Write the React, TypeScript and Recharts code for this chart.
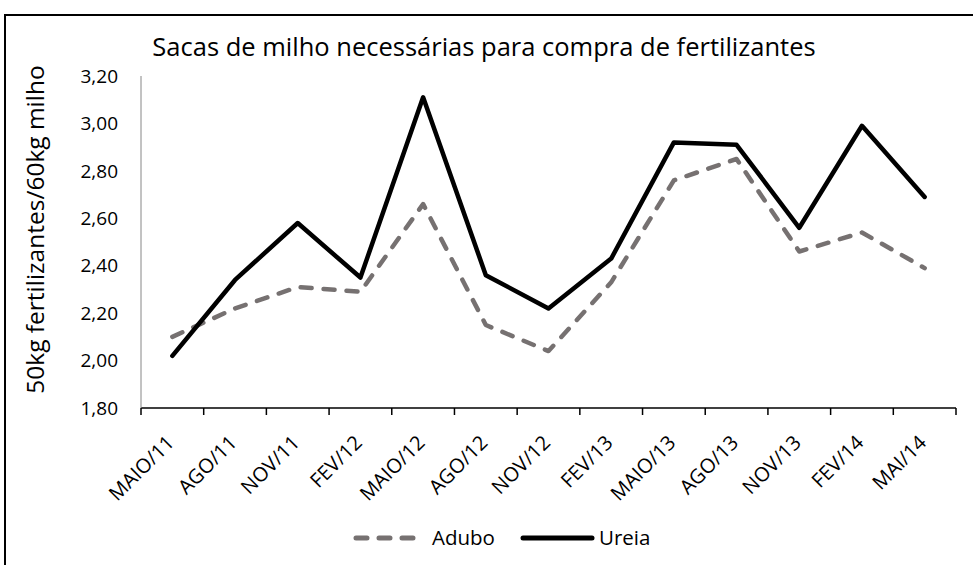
import { LineChart, Line, XAxis, YAxis, Legend } from 'recharts';

const categories = ['MAIO/11', 'AGO/11', 'NOV/11', 'FEV/12', 'MAIO/12', 'AGO/12', 'NOV/12', 'FEV/13', 'MAIO/13', 'AGO/13', 'NOV/13', 'FEV/14', 'MAI/14'];
const adubo = [2.1, 2.22, 2.31, 2.29, 2.66, 2.15, 2.04, 2.33, 2.76, 2.85, 2.46, 2.54, 2.39];
const ureia = [2.02, 2.34, 2.58, 2.35, 3.11, 2.36, 2.22, 2.43, 2.92, 2.91, 2.56, 2.99, 2.69];
const yTicks = [1.8, 2.0, 2.2, 2.4, 2.6, 2.8, 3.0, 3.2];

const W = 973;
const H = 565;
const margin = { top: 76, right: 17, left: 0, bottom: 7 };
const yAxisWidth = 141;
const band = (W - yAxisWidth - margin.right - margin.left) / categories.length;
const font = '"Open Sans", sans-serif';
const grey = '#767171';

const data = categories.map((c, i) => ({ name: c, adubo: adubo[i], ureia: ureia[i] }));

function XTick(props: any) {
  const { x, y, payload, index } = props;
  const left = x - band / 2;
  const tx = x + 3;
  const ty = y + 36;
  return (
    <g>
      <line x1={left} x2={left} y1={y} y2={y + 7} stroke="#000" strokeWidth={1.5} />
      {index === categories.length - 1 && (
        <line x1={x + band / 2} x2={x + band / 2} y1={y} y2={y + 7} stroke="#000" strokeWidth={1.5} />
      )}
      <text x={tx} y={ty} transform={`rotate(-45, ${tx}, ${ty})`} textAnchor="end" fontSize={20} fontFamily={font} fill="#000">
        {payload.value}
      </text>
    </g>
  );
}

function LegendContent() {
  return (
    <svg width={W} height={40}>
      <line x1={356} x2={418} y1={20} y2={20} stroke={grey} strokeWidth={5} strokeDasharray="11 12" strokeLinecap="round" />
      <text x={432} y={27} fontSize={20.5} fontFamily={font} fill="#000">Adubo</text>
      <line x1={523} x2={592} y1={20} y2={20} stroke="#000" strokeWidth={5} strokeLinecap="round" />
      <text x={599} y={27} fontSize={20.5} fontFamily={font} fill="#000">Ureia</text>
    </svg>
  );
}

export default function App() {
  return (
    <div style={{ position: 'fixed', left: 0, top: 0, width: W, height: H, background: '#fff' }}>
      <div style={{ position: 'absolute', left: 4, top: 14, width: 980, height: 560, border: '2px solid #000', boxSizing: 'border-box' }} />
      <LineChart width={W} height={H} data={data} margin={margin}>
        <text x={484} y={46} textAnchor="middle" dominantBaseline="central" fontSize={25.5} fontFamily={font} fill="#000">
          Sacas de milho necessárias para compra de fertilizantes
        </text>
        <XAxis
          dataKey="name"
          interval={0}
          height={110}
          padding={{ left: band / 2, right: band / 2 }}
          tick={<XTick />}
          tickLine={false}
          tickSize={0}
          tickMargin={0}
          axisLine={{ stroke: '#000', strokeWidth: 1.5 }}
        />
        <YAxis
          width={yAxisWidth}
          domain={[1.8, 3.2]}
          ticks={yTicks}
          interval={0}
          tickLine={false}
          tickSize={0}
          tickMargin={23}
          axisLine={{ stroke: '#868686', strokeWidth: 1 }}
          tick={{ fontSize: 19, fontFamily: font, fill: '#000' }}
          tickFormatter={(v: number) => v.toFixed(2).replace('.', ',')}
          label={{
            content: () => (
              <text x={34} y={229.5} transform="rotate(-90, 34, 229.5)" textAnchor="middle" dominantBaseline="central" fontSize={24.5} fontFamily={font} fill="#000">
                50kg fertilizantes/60kg milho
              </text>
            ),
          }}
        />
        <Legend verticalAlign="bottom" height={40} content={<LegendContent />} />
        <Line
          type="linear"
          dataKey="adubo"
          name="Adubo"
          stroke={grey}
          strokeWidth={4.5}
          strokeDasharray="11 12"
          strokeLinecap="round"
          strokeLinejoin="round"
          dot={false}
          isAnimationActive={false}
        />
        <Line
          type="linear"
          dataKey="ureia"
          name="Ureia"
          stroke="#000"
          strokeWidth={4.5}
          strokeLinecap="round"
          strokeLinejoin="round"
          dot={false}
          isAnimationActive={false}
        />
      </LineChart>
    </div>
  );
}
